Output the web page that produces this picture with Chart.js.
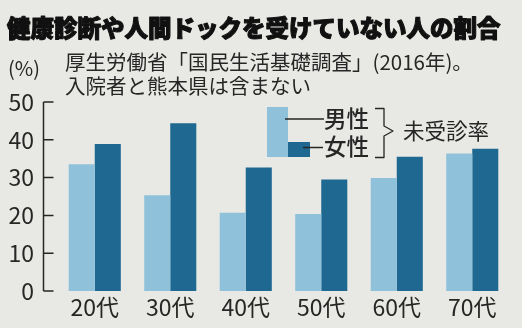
<!DOCTYPE html>
<html lang="ja">
<head>
<meta charset="utf-8">
<script src="https://cdn.jsdelivr.net/npm/chart.js@4.4.1/dist/chart.umd.min.js"></script>
<style>
  html, body { margin: 0; padding: 0; background: #e8e8e4; }
</style>
</head>
<body>
<canvas id="chart" width="522" height="328"></canvas>
<script>
// 年代別・男女別の未受診率 (%)
const ageGroups = ['20代', '30代', '40代', '50代', '60代', '70代'];
const menRate = [33.5, 25.3, 20.7, 20.4, 29.9, 36.4];
const womenRate = [38.9, 44.4, 32.7, 29.5, 35.5, 37.6];
const yTicks = [0, 10, 20, 30, 40, 50];
const seriesNames = ['男性', '女性'];
const legendNote = '未受診率';
const titleText = '健康診断や人間ドックを受けていない人の割合';
const sourceLines = ['厚生労働省「国民生活基礎調査」(2016年)。', '入院者と熊本県は含まない'];
const unitText = '(%)';

const paper = '#e8e8e4';
const ink = '#262626';
const lightBlue = '#8fc2da';
const darkBlue = '#1f6891';
const jp = "'Noto Sans CJK JP', sans-serif";
const narrow = "'Liberation Sans Narrow', 'Noto Sans CJK JP', sans-serif";

// 背景、縦軸、見出し、凡例を描く
const decorations = {
  id: 'decorations',
  beforeDraw(chart) {
    const ctx = chart.ctx;
    ctx.save();
    ctx.fillStyle = paper;
    ctx.fillRect(0, 0, chart.width, chart.height);
    ctx.restore();
  },
  afterDatasetsDraw(chart) {
    const ctx = chart.ctx;
    const y = chart.scales.y;
    const axisX = 43.5;

    ctx.save();
    ctx.strokeStyle = ink;
    ctx.lineWidth = 1.5;
    ctx.beginPath();
    ctx.moveTo(axisX, y.getPixelForValue(50));
    ctx.lineTo(axisX, y.getPixelForValue(0));
    yTicks.forEach(v => {
      const py = y.getPixelForValue(v);
      ctx.moveTo(axisX, py);
      ctx.lineTo(axisX + 10, py);
    });
    ctx.stroke();

    // タイトル (太字をさらに太く)
    ctx.fillStyle = '#111';
    ctx.strokeStyle = '#111';
    ctx.lineWidth = 1.1;
    ctx.lineJoin = 'round';
    ctx.textBaseline = 'middle';
    ctx.textAlign = 'left';
    ctx.font = '900 23.5px ' + jp;
    ctx.fillText(titleText, 7, 28);
    ctx.strokeText(titleText, 7, 28);

    // 出典
    ctx.fillStyle = ink;
    ctx.font = '20.5px ' + jp;
    ctx.fillText(sourceLines[0], 65, 62);
    ctx.fillText(sourceLines[1], 65, 86);

    ctx.font = '20px ' + narrow;
    ctx.textAlign = 'center';
    ctx.fillText(unitText, 24, 68);

    // 凡例
    const ds = chart.data.datasets;
    ctx.fillStyle = ds[0].backgroundColor;
    ctx.fillRect(267, 107, 21, 50);
    ctx.fillStyle = ds[1].backgroundColor;
    ctx.fillRect(288, 142, 22, 15);

    ctx.strokeStyle = ink;
    ctx.lineWidth = 1.5;
    ctx.beginPath();
    ctx.moveTo(285, 119);
    ctx.lineTo(324, 119);
    ctx.moveTo(303, 147.5);
    ctx.lineTo(323, 147.5);
    ctx.stroke();

    ctx.fillStyle = ink;
    ctx.textAlign = 'left';
    ctx.font = '500 22.5px ' + jp;
    ctx.fillText(ds[0].label, 324, 118);
    ctx.fillText(ds[1].label, 324, 146);

    ctx.lineWidth = 1.3;
    ctx.beginPath();
    ctx.moveTo(375, 108.5);
    ctx.lineTo(384, 108.5);
    ctx.lineTo(384, 126);
    ctx.lineTo(393, 131);
    ctx.lineTo(384, 136);
    ctx.lineTo(384, 157.5);
    ctx.lineTo(375, 157.5);
    ctx.stroke();

    ctx.font = '21.5px ' + jp;
    ctx.fillText(legendNote, 403, 131);
    ctx.restore();
  }
};

new Chart(document.getElementById('chart'), {
  type: 'bar',
  data: {
    labels: ageGroups,
    datasets: [
      { label: seriesNames[0], data: menRate, backgroundColor: lightBlue },
      { label: seriesNames[1], data: womenRate, backgroundColor: darkBlue }
    ]
  },
  options: {
    responsive: false,
    animation: false,
    devicePixelRatio: 1,
    layout: { padding: { top: 102, right: 12, bottom: 0, left: 0 } },
    datasets: {
      bar: { categoryPercentage: 0.69, barPercentage: 1, borderWidth: 0 }
    },
    plugins: {
      legend: { display: false },
      title: { display: false },
      tooltip: { enabled: false }
    },
    scales: {
      x: {
        grid: { display: false, drawTicks: false },
        border: { display: false },
        ticks: {
          color: ink,
          padding: 5,
          font: { family: narrow, size: 23, lineHeight: 1 }
        },
        afterFit(scale) { scale.height = 37; }
      },
      y: {
        min: 0,
        max: 50,
        grid: { display: false, drawTicks: false },
        border: { display: false },
        afterBuildTicks(scale) { scale.ticks = yTicks.map(v => ({ value: v })); },
        ticks: {
          color: ink,
          padding: 23,
          font: { family: narrow, size: 23, lineHeight: 1 }
        },
        afterFit(scale) { scale.width = 57; }
      }
    }
  },
  plugins: [decorations]
});
</script>
</body>
</html>
